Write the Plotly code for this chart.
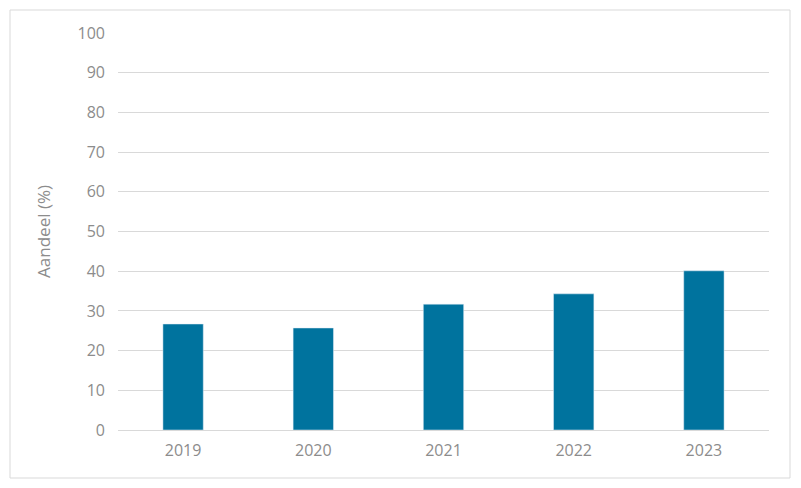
import plotly.graph_objects as go

years = ["2019", "2020", "2021", "2022", "2023"]
values = [26.7, 25.7, 31.7, 34.3, 40.1]

OFF = 8  # page body margin
L, R, T, B = 118 - OFF, 32 - OFF, 33 - OFF, 58 - OFF
W, H = 801 - 2 * OFF, 488 - 2 * OFF
pw, ph = W - L - R, H - T - B

fig = go.Figure(go.Bar(x=years, y=values, marker_color="#00739E", width=0.31))
fig.update_layout(
    width=W, height=H, margin=dict(l=L, r=R, t=T, b=B),
    plot_bgcolor="white", paper_bgcolor="white", showlegend=False,
    font=dict(family="Open Sans", size=16, color="#8C8C8C"),
)
fig.update_yaxes(range=[0, 100], dtick=10, showgrid=True, gridcolor="#D9D9D9",
                 zeroline=False, ticks="", title=dict(text="Aandeel (%)", font=dict(size=17), standoff=22),
                 ticklabelstandoff=12)
fig.update_xaxes(showline=True, linecolor="#D9D9D9", ticks="", ticklabelstandoff=6)
fig.add_shape(type="rect", xref="paper", yref="paper",
              x0=(10 - 118) / pw, x1=(790 - 118) / pw,
              y0=(430 - 478) / ph, y1=(430 - 10) / ph,
              line=dict(color="#D9D9D9", width=1))
fig.write_html("out.html")
